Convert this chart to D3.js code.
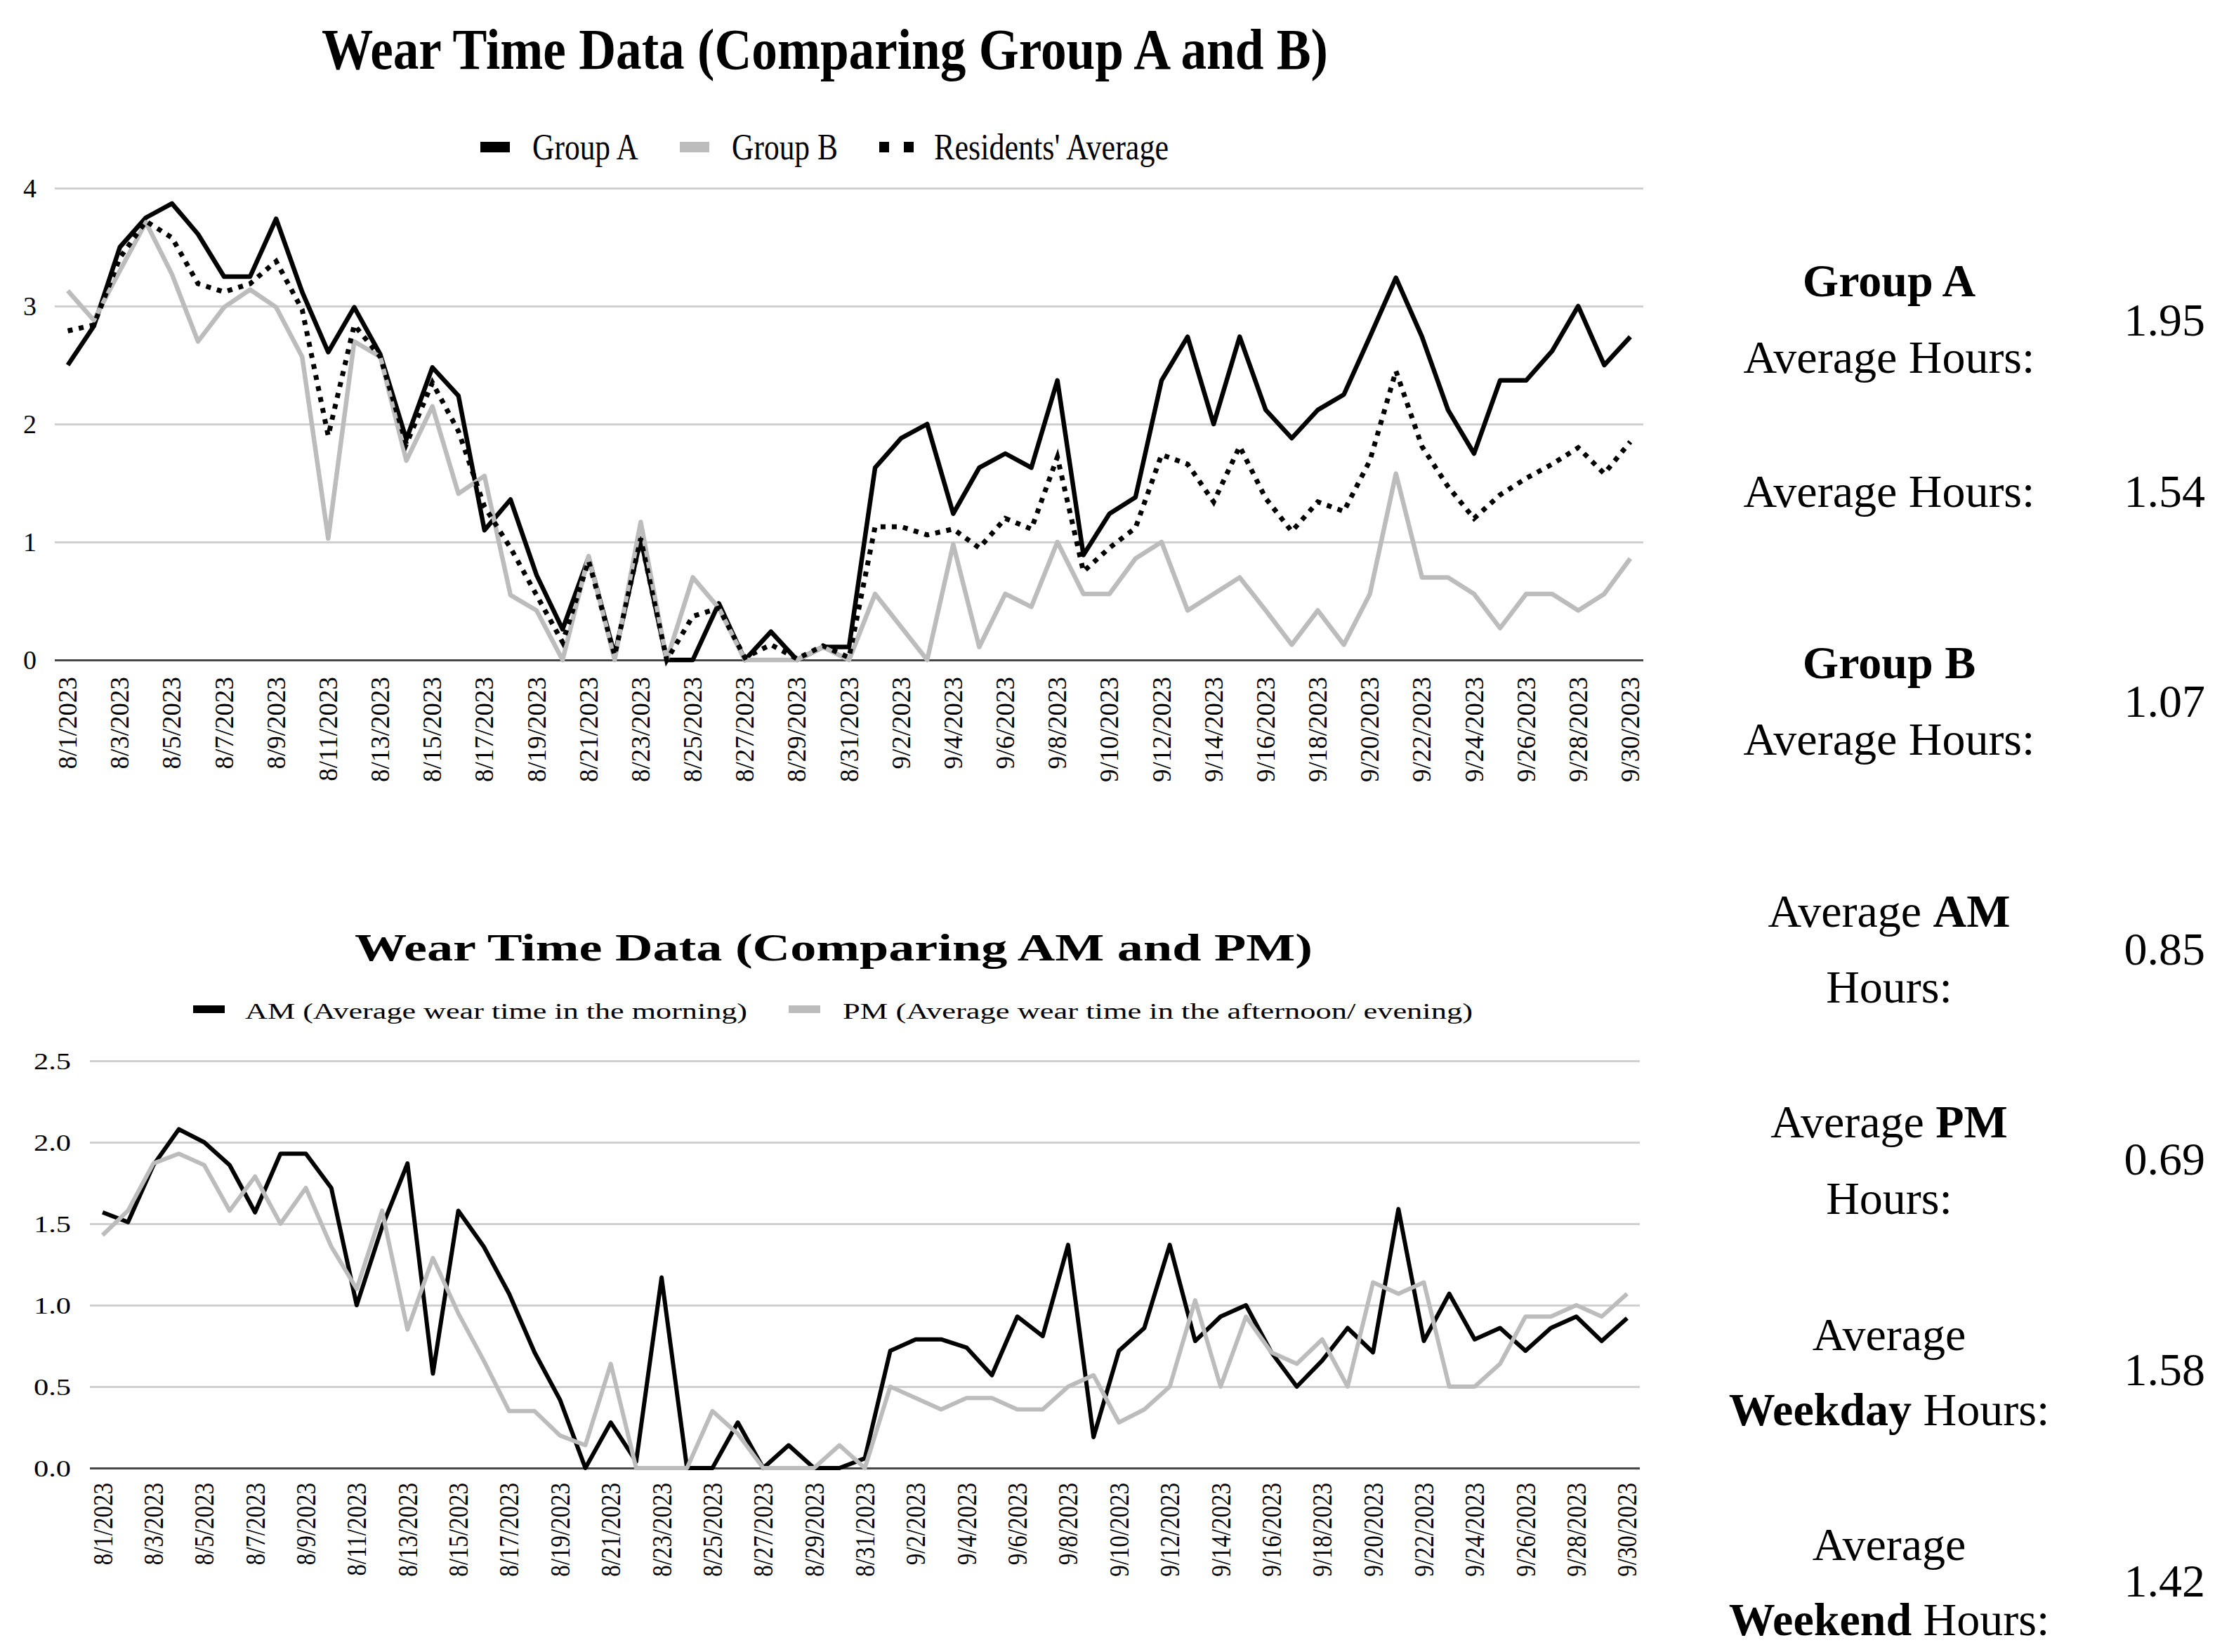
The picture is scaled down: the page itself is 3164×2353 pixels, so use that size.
<!DOCTYPE html>
<html><head><meta charset="utf-8">
<script src="https://cdn.jsdelivr.net/npm/d3@7"></script>
<style>html,body{margin:0;padding:0;background:#fff;} svg{display:block;}</style>
</head><body>
<svg id="c" width="3164" height="2353"></svg>
<script>
// ---------- DATA ----------
const dates = ["8/1/2023","8/2/2023","8/3/2023","8/4/2023","8/5/2023","8/6/2023","8/7/2023","8/8/2023","8/9/2023","8/10/2023",
"8/11/2023","8/12/2023","8/13/2023","8/14/2023","8/15/2023","8/16/2023","8/17/2023","8/18/2023","8/19/2023","8/20/2023",
"8/21/2023","8/22/2023","8/23/2023","8/24/2023","8/25/2023","8/26/2023","8/27/2023","8/28/2023","8/29/2023","8/30/2023",
"8/31/2023","9/1/2023","9/2/2023","9/3/2023","9/4/2023","9/5/2023","9/6/2023","9/7/2023","9/8/2023","9/9/2023",
"9/10/2023","9/11/2023","9/12/2023","9/13/2023","9/14/2023","9/15/2023","9/16/2023","9/17/2023","9/18/2023","9/19/2023",
"9/20/2023","9/21/2023","9/22/2023","9/23/2023","9/24/2023","9/25/2023","9/26/2023","9/27/2023","9/28/2023","9/29/2023","9/30/2023"];

const groupA = [2.50,2.83,3.50,3.75,3.87,3.61,3.25,3.25,3.74,3.12,
2.61,2.99,2.59,1.87,2.48,2.24,1.10,1.36,0.72,0.26,
0.87,0.04,1.03,0,0,0.48,0,0.24,0,0.11,
0.11,1.63,1.88,2.00,1.24,1.63,1.75,1.63,2.37,0.89,
1.24,1.38,2.37,2.74,2.00,2.74,2.12,1.88,2.12,2.25,
2.74,3.24,2.74,2.12,1.75,2.37,2.37,2.62,3.00,2.50,2.74];

const groupB = [3.13,2.88,3.30,3.71,3.27,2.70,2.99,3.14,2.99,2.57,
1.03,2.70,2.57,1.69,2.15,1.41,1.56,0.55,0.42,0,
0.88,0,1.17,0,0.70,0.44,0,0,0,0.11,
0,0.56,0.28,0,0.98,0.11,0.56,0.45,1.00,0.56,
0.56,0.86,1.00,0.42,0.56,0.70,0.42,0.13,0.42,0.13,
0.56,1.58,0.70,0.70,0.56,0.27,0.56,0.56,0.42,0.56,0.86];

const residentsAvg = [2.79,2.84,3.41,3.72,3.58,3.19,3.12,3.19,3.38,2.97,
1.90,2.84,2.57,1.83,2.35,1.94,1.30,0.95,0.55,0.15,
0.84,0.04,1.03,0,0.37,0.44,0.02,0.13,0.01,0.12,
0.02,1.13,1.13,1.06,1.11,0.95,1.20,1.11,1.72,0.75,
0.95,1.12,1.74,1.66,1.34,1.81,1.37,1.09,1.34,1.26,
1.69,2.45,1.81,1.47,1.20,1.40,1.54,1.66,1.80,1.58,1.85];

const amHours = [1.57,1.51,1.86,2.08,2.00,1.86,1.57,1.93,1.93,1.72,
1.00,1.48,1.87,0.58,1.58,1.36,1.07,0.71,0.42,0,
0.28,0.04,1.17,0,0,0.28,0,0.14,0,0,
0.06,0.72,0.79,0.79,0.74,0.57,0.93,0.81,1.37,0.19,
0.72,0.86,1.37,0.78,0.93,1.00,0.71,0.50,0.66,0.86,
0.71,1.59,0.78,1.07,0.79,0.86,0.72,0.86,0.93,0.78,0.92];

const pmHours = [1.43,1.58,1.87,1.93,1.86,1.58,1.79,1.50,1.72,1.36,
1.10,1.58,0.85,1.29,0.95,0.66,0.35,0.35,0.20,0.14,
0.64,0,0,0,0.35,0.21,0,0,0,0.14,
0,0.50,0.43,0.36,0.43,0.43,0.36,0.36,0.50,0.57,
0.28,0.36,0.50,1.03,0.50,0.93,0.71,0.64,0.79,0.50,
1.14,1.07,1.14,0.50,0.50,0.64,0.93,0.93,1.00,0.93,1.07];

const yTicksTop = [0,1,2,3,4];
const yTickLabelsTop = ["0","1","2","3","4"];
const yTicksBottom = [0,0.5,1,1.5,2,2.5];
const yTickLabelsBottom = ["0.0","0.5","1.0","1.5","2.0","2.5"];

const titleTop = "Wear Time Data (Comparing Group A and B)";
const titleBottom = "Wear Time Data (Comparing AM and PM)";
const legendTop = ["Group A","Group B","Residents' Average"];
const legendBottom = ["AM (Average wear time in the morning)","PM (Average wear time in the afternoon/ evening)"];

const statValues = ["1.95","1.54","1.07","0.85","0.69","1.58","1.42"];

// ---------- DRAW ----------
const FONT = "'Liberation Serif','Times New Roman',serif";
const svg = d3.select("#c");
svg.append("rect").attr("width",3164).attr("height",2353).attr("fill","#fff");

const BLACK = "#000", GRAY = "#bcbcbc";

// ===== TOP CHART =====
const xTop = d3.scaleBand().domain(dates).range([78, 2340]);
const yTop = d3.scaleLinear().domain([0,4]).range([940, 268]);

const gyT = svg.append("g").attr("transform","translate(78,0)")
  .call(d3.axisLeft(yTop).tickValues(yTicksTop).tickFormat((d,i)=>yTickLabelsTop[i])
        .tickSize(-(2340-78)).tickPadding(26));
gyT.select(".domain").remove();
gyT.selectAll(".tick line").attr("stroke", d => d===0 ? "#474747" : "#d0d0d0").attr("stroke-width",3);
gyT.selectAll(".tick text").attr("font-family",FONT).attr("font-size",38).attr("fill","#000").attr("dy","0.33em");

const gxT = svg.append("g").attr("transform","translate(0,940)")
  .call(d3.axisBottom(xTop).tickValues(dates.filter((d,i)=>i%2===0)).tickSize(0));
gxT.select(".domain").remove();
gxT.selectAll(".tick text").attr("font-family",FONT).attr("font-size",37).attr("fill","#000")
  .attr("x",0).attr("y",0).attr("dy","0.34em").attr("text-anchor","end")
  .attr("transform","translate(0,24) rotate(-90)");

const lineT = d3.line().x((d,i)=>xTop(dates[i]) + xTop.bandwidth()/2).y(d=>yTop(d));
svg.append("path").datum(groupA).attr("d",lineT).attr("fill","none").attr("stroke",BLACK)
  .attr("stroke-width",6.5).attr("stroke-linejoin","round");
svg.append("path").datum(groupB).attr("d",lineT).attr("fill","none").attr("stroke",GRAY)
  .attr("stroke-width",6.5).attr("stroke-linejoin","round");
svg.append("path").datum(residentsAvg).attr("d",lineT).attr("fill","none").attr("stroke",BLACK)
  .attr("stroke-width",7).attr("stroke-dasharray","7,9");

svg.append("text").attr("x",458).attr("y",98).attr("font-family",FONT).attr("font-weight","bold")
  .attr("font-size",83).attr("textLength",1433).attr("lengthAdjust","spacingAndGlyphs").text(titleTop);

// top legend
const legT = svg.append("g");
const legTpos = [{m:684, t:758, w:151}, {m:968, t:1042, w:151}, {m:1252, t:1330, w:334}];
legT.append("rect").attr("x",legTpos[0].m).attr("y",202).attr("width",42).attr("height",15).attr("fill",BLACK);
legT.append("rect").attr("x",legTpos[1].m).attr("y",202).attr("width",42).attr("height",15).attr("fill",GRAY);
legT.append("line").attr("x1",legTpos[2].m).attr("x2",legTpos[2].m+50).attr("y1",209.5).attr("y2",209.5)
  .attr("stroke",BLACK).attr("stroke-width",15).attr("stroke-dasharray","14,21");
legendTop.forEach((s,i)=>{
  legT.append("text").attr("x",legTpos[i].t).attr("y",227).attr("font-family",FONT).attr("font-size",52)
    .attr("textLength",legTpos[i].w).attr("lengthAdjust","spacingAndGlyphs").text(s);
});

// ===== BOTTOM CHART =====
const xBot = d3.scaleBand().domain(dates).range([128, 2335]);
const yBot = d3.scaleLinear().domain([0,2.5]).range([2091, 1511]);
const SX = 1.25;

const gyB = svg.append("g").attr("transform","translate(128,0)")
  .call(d3.axisLeft(yBot).tickValues(yTicksBottom).tickFormat((d,i)=>yTickLabelsBottom[i])
        .tickSize(-(2335-128)).tickPadding(0));
gyB.select(".domain").remove();
gyB.selectAll(".tick line").attr("stroke", d => d===0 ? "#474747" : "#d0d0d0").attr("stroke-width",3);
gyB.selectAll(".tick text").attr("font-family",FONT).attr("font-size",34).attr("fill","#000")
  .attr("x",-27/SX).attr("dy","0.33em").attr("transform",`scale(${SX},1)`);

const gxB = svg.append("g").attr("transform","translate(0,2091)")
  .call(d3.axisBottom(xBot).tickValues(dates.filter((d,i)=>i%2===0)).tickSize(0));
gxB.select(".domain").remove();
gxB.selectAll(".tick text").attr("font-family",FONT).attr("font-size",33).attr("fill","#000")
  .attr("x",0).attr("y",0).attr("dy","0.34em").attr("text-anchor","end")
  .attr("transform","translate(0,21) scale(1.2,1) rotate(-90)");

const lineB = d3.line().x((d,i)=>xBot(dates[i]) + xBot.bandwidth()/2).y(d=>yBot(d));
svg.append("path").datum(amHours).attr("d",lineB).attr("fill","none").attr("stroke",BLACK)
  .attr("stroke-width",6).attr("stroke-linejoin","round");
svg.append("path").datum(pmHours).attr("d",lineB).attr("fill","none").attr("stroke",GRAY)
  .attr("stroke-width",6).attr("stroke-linejoin","round");

svg.append("text").attr("x",505).attr("y",1368).attr("font-family",FONT).attr("font-weight","bold")
  .attr("font-size",55).attr("textLength",1364).attr("lengthAdjust","spacingAndGlyphs").text(titleBottom);

const legB = svg.append("g");
const legBpos = [{m:275, t:349, w:715, c:BLACK}, {m:1123, t:1200, w:897, c:GRAY}];
legendBottom.forEach((s,i)=>{
  legB.append("rect").attr("x",legBpos[i].m).attr("y",1432).attr("width",45).attr("height",11).attr("fill",legBpos[i].c);
  legB.append("text").attr("x",legBpos[i].t).attr("y",1451).attr("font-family",FONT).attr("font-size",32)
    .attr("textLength",legBpos[i].w).attr("lengthAdjust","spacingAndGlyphs").text(s);
});

// ===== RIGHT PANEL =====
const CX = 2690, NX = 3140, FS = 66;
const panel = svg.append("g").attr("font-family",FONT).attr("font-size",FS).attr("fill","#000");
function line(y, parts){
  const t = panel.append("text").attr("x",CX).attr("y",y).attr("text-anchor","middle");
  parts.forEach(p=>{ t.append("tspan").attr("font-weight", p[1] ? "bold" : "normal").text(p[0]); });
}
line(422, [["Group A",1]]);
line(531, [["Average Hours:",0]]);
line(722, [["Average Hours:",0]]);
line(966, [["Group B",1]]);
line(1075,[["Average Hours:",0]]);
line(1320,[["Average ",0],["AM",1]]);
line(1428,[["Hours:",0]]);
line(1620,[["Average ",0],["PM",1]]);
line(1729,[["Hours:",0]]);
line(1923,[["Average",0]]);
line(2030,[["Weekday",1],[" Hours:",0]]);
line(2222,[["Average",0]]);
line(2329,[["Weekend",1],[" Hours:",0]]);
const statY = [478, 722, 1021, 1374, 1673, 1973, 2274];
statValues.forEach((v,i)=>{
  panel.append("text").attr("x",NX).attr("y",statY[i]).attr("text-anchor","end").text(v);
});
</script>
</body></html>
